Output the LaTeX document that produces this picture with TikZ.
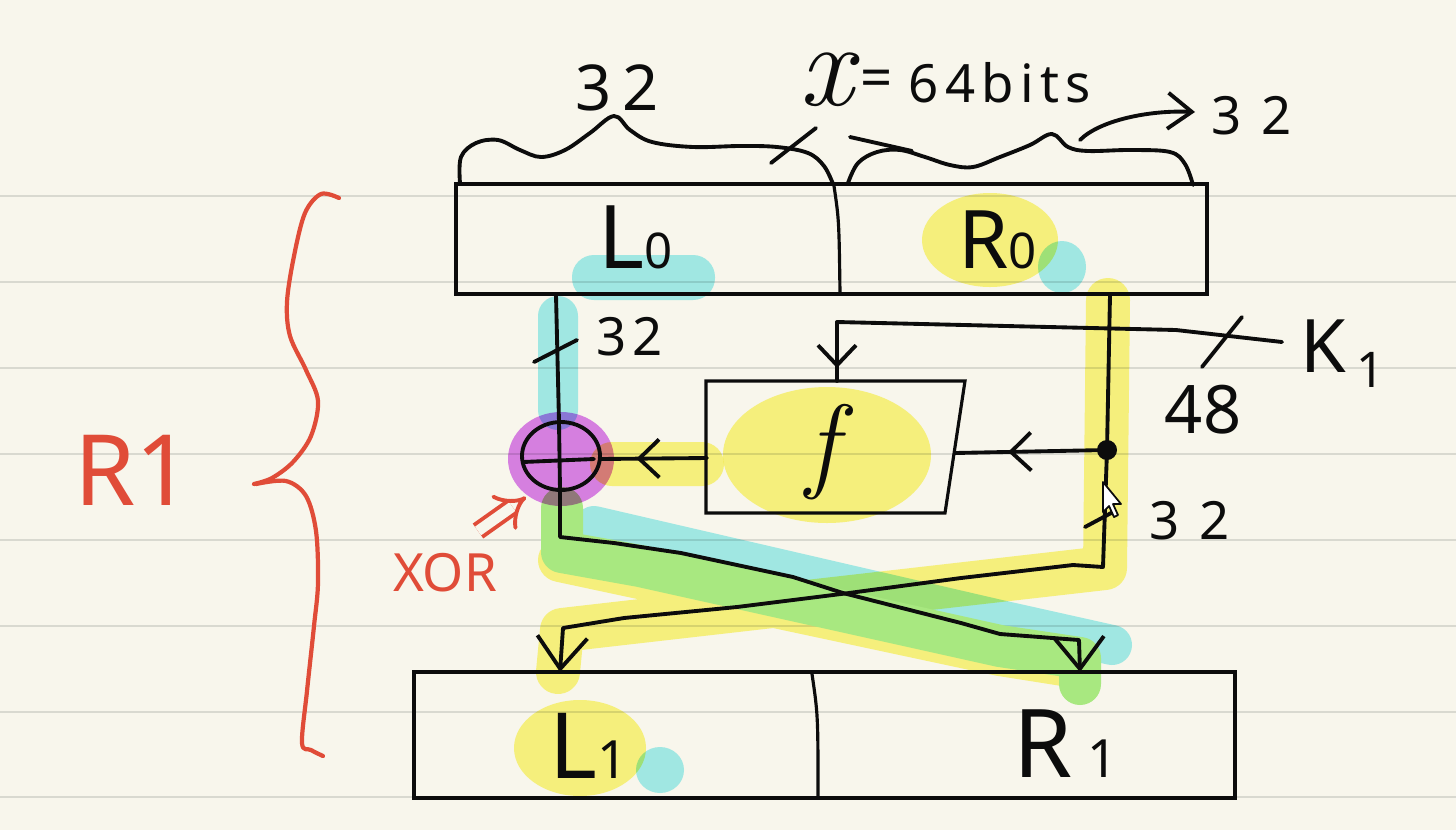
\documentclass[tikz,border=0pt]{standalone}
\usepackage{fontspec}
\setmainfont{Noto Sans}
\newfontfamily\lmr{Latin Modern Roman}
\usetikzlibrary{arrows.meta,decorations.markings}
\definecolor{bg}{RGB}{248,246,236}
\definecolor{rulecol}{RGB}{217,217,208}
\definecolor{hlY}{RGB}{252,248,135}
\definecolor{hlC}{RGB}{165,240,245}
\definecolor{hlG}{RGB}{168,232,128}
\definecolor{hlP}{RGB}{220,132,242}
\definecolor{pen}{RGB}{12,12,12}
\definecolor{redpen}{RGB}{224,76,56}
\tikzset{
  penline/.style={draw=pen, line width=1.1pt, line cap=round, line join=round},
  boxline/.style={draw=pen, line width=0.9pt},
  bigbarb/.tip={Straight Barb[length=3.2mm,width=5mm]},
  smallbarb/.tip={Straight Barb[length=2mm,width=3.8mm]},
  endtip/.style={-{bigbarb}},
  midarrow/.style={postaction={decorate, decoration={markings, mark=at position #1 with {\arrow{smallbarb}}}}},
  lbl/.style={inner sep=0pt, text=pen},
  hand/.style={inner sep=0pt, text=pen, font=\fontsize{15}{15}\selectfont},
}
\begin{document}
\begin{tikzpicture}[x=0.1mm,y=-0.1mm]
\fill[bg] (0,0) rectangle (1456,830);
\useasboundingbox (0,0) rectangle (1456,830);
\foreach \yy in {196,282,368,454,540,626,712,797}
  \draw[rulecol, line width=0.6pt] (0,\yy) -- (1456,\yy);

% ---------------- highlighter strokes ----------------
\begin{scope}[blend mode=multiply]
  \fill[hlY] (990,240) ellipse [x radius=6.8mm, y radius=4.7mm]
             (827,455) ellipse [x radius=10.4mm, y radius=6.8mm]
             (580,748) ellipse [x radius=6.6mm, y radius=4.8mm];
  \draw[hlY, line width=4.4mm, line cap=round, line join=round]
        (1108,300) -- (1105,568) -- (562,630) -- (558,672)
        (612,464) -- (702,464)
        (560,560) -- (1000,654) -- (1076,666);
  \fill[hlC, rounded corners=2.2mm] (572,255) rectangle (715,300);
  \fill[hlC] (1062,267) ellipse [x radius=2.4mm, y radius=2.6mm]
             (660,770) ellipse [x radius=2.4mm, y radius=2.3mm];
  \draw[hlC, line width=4mm, line cap=round, line join=round]
        (558,316) -- (558,410)
        (594,526) -- (1000,620) -- (1112,645);
\end{scope}
\draw[hlG, line width=4.2mm, line cap=round, line join=round]
      (562,508) -- (562,552) -- (640,566) -- (1000,646) -- (1080,658) -- (1080,684);
\begin{scope}[blend mode=multiply]
  \fill[hlP] (561,459) ellipse [x radius=5.3mm, y radius=4.7mm];
\end{scope}

% ---------------- boxes ----------------
\node[boxline, minimum width=75.1mm, minimum height=11mm, inner sep=0pt] (top) at (831.5,239) {};
\node[boxline, minimum width=82.1mm, minimum height=12.6mm, inner sep=0pt] (bot) at (824.5,735) {};
\draw[boxline] (834,186) .. controls (839,220) .. (840,293);
\draw[boxline] (812,674) .. controls (818,715) .. (818,797);
\draw[boxline] (706,381) -- (965,381) -- (945,513) -- (706,513) -- cycle;

% ---------------- named points ----------------
\coordinate (l0out) at (556,295);
\coordinate (r0out) at (1110,295);
\coordinate (dot) at (1107,450);
\coordinate (xorN) at (559,422);
\coordinate (xorS) at (560,490);
\coordinate (xorE) at (600,459);
\coordinate (xorW) at (523,462);
\coordinate (l1in) at (560,672);
\coordinate (r1in) at (1080,672);
\coordinate (kend) at (1282,342);
\coordinate (kcorner) at (837,322);
\coordinate (ftop) at (837,381);
\coordinate (fin) at (955,453);
\coordinate (fout) at (707,458);

% ---------------- XOR ----------------
\draw[penline] (561,456) ellipse [x radius=3.9mm, y radius=3.4mm];
\draw[penline] (xorW) -- (594,459);

% ---------------- connectors ----------------
\draw[penline] (l0out) -- (xorN) -- (xorS);
\draw[penline, endtip] (xorS) -- (560,537) -- (614,543) -- (681,553) -- (793,577) -- (843,593)
      -- (961,623) -- (1000,634) -- (1079,640) -- (r1in);
\draw[penline] (r0out) -- (dot);
\draw[penline, endtip] (dot) -- (1103,567) -- (1073,565) -- (961,578) -- (849,593) -- (737,607)
      -- (624,618) -- (563,628) -- (l1in);
\draw[penline, midarrow=0.65] (dot) -- (fin);
\draw[penline, midarrow=0.66] (fout) -- (xorE);
\draw[penline] (kend) -- (1176,330) -- (kcorner);
\draw[penline, midarrow=0.78] (kcorner) -- (ftop);
\fill[pen] (dot) circle (1mm);

% ticks
\draw[penline] (534,362) -- (577,340);
\draw[penline] (1085,527) -- (1113,512);
\draw[penline] (1202,367) -- (1242,317);
\draw[penline] (771,163) -- (816,128);

% ---------------- top braces ----------------
\draw[penline] plot[smooth, tension=0.6] coordinates {(460,183) (461,157) (476,143) (498,140) (520,150) (541,157) (565,150) (590,133) (614,116) (630,130) (652,142) (693,147) (740,146) (777,147) (808,153) (824,166) (833,184)};
\draw[penline] plot[smooth, tension=0.6] coordinates {(848,183) (858,163) (877,152) (900,150) (925,157) (950,165) (973,167) (1000,157) (1030,145) (1052,134) (1068,147) (1088,151) (1130,150) (1170,152) (1185,164) (1193,185)};
\draw[penline] (850,137) -- (912,151);
\draw[penline, -{Straight Barb[length=2.4mm,width=3.6mm]}] (1080,140) .. controls (1100,120) and (1150,110) .. (1195,112);

% ---------------- labels ----------------
\node[lbl, anchor=base west] (L0) at (598,268) {\fontsize{25}{25}\selectfont L\fontsize{14}{14}\selectfont 0};
\node[lbl, anchor=base west] (R0) at (958,268) {\fontsize{23}{23}\selectfont R\fontsize{14}{14}\selectfont 0};
\node[lbl, anchor=base west] (L1) at (549,778) {\fontsize{26}{26}\selectfont L\fontsize{15}{15}\selectfont 1};
\node[lbl, anchor=base west] (R1) at (1013,777) {\fontsize{27}{27}\selectfont R\hspace{1.5mm}\fontsize{15}{15}\selectfont 1};
\node[lbl, anchor=base west] (K1) at (1300,372) {\fontsize{21}{21}\selectfont K\hspace{1mm}\raisebox{-1.5mm}{\fontsize{14}{14}\selectfont 1}};
\node[lbl] (fn) at (822,452) {\lmr\itshape\fontsize{30}{30}\selectfont f};

\node[lbl] (n32a) at (617,88) {\fontsize{18}{18}\selectfont 3\hspace{1mm}2};
\node[lbl] (xvar) at (826,80) {\lmr\itshape\fontsize{34}{34}\selectfont x};
\node[lbl] (eq) at (877,84) {\fontsize{16}{16}\selectfont =};
\node[lbl, anchor=base west] (bits) at (908,102) {\addfontfeature{LetterSpace=12}\fontsize{15}{15}\selectfont 64bits};
\node[hand] (n32b) at (1252,116) {3\hspace{2mm}2};
\node[hand] (n32c) at (630,337) {3\hspace{0.6mm}2};
\node[lbl] (n48) at (1203,410) {\fontsize{19}{19}\selectfont 48};
\node[hand] (n32d) at (1190,521) {3\hspace{2mm}2};

% ---------------- red annotations ----------------
\node[inner sep=0pt, text=redpen] (round) at (133,470) {\fontsize{28}{28}\selectfont R1};
\node[inner sep=0pt, text=redpen] (xorlbl) at (445,573) {\fontsize{15}{15}\selectfont XOR};
\draw[redpen, line width=1.1pt, double=bg, double distance=3pt, -{Implies}] (478,531) -- (526,497);
\draw[redpen, line width=1.2pt, line cap=round] plot[smooth, tension=0.55] coordinates {(339,198) (321,194) (305,213) (294,256) (287,302) (290,336) (306,370) (318,401) (311,436) (293,462) (272,478) (254,484)};
\draw[redpen, line width=1.2pt, line cap=round] plot[smooth, tension=0.55] coordinates {(256,484) (286,481) (306,496) (316,531) (318,583) (314,626) (307,691) (302,743) (311,750) (323,756)};

% ---------------- mouse cursor ----------------
\filldraw[fill=white, draw=pen, line width=0.5pt, line join=round] (1103,482) -- (1103,512) -- (1109,506) -- (1114,517) -- (1118,515) -- (1113,504) -- (1121,504) -- cycle;
\end{tikzpicture}
\end{document}
